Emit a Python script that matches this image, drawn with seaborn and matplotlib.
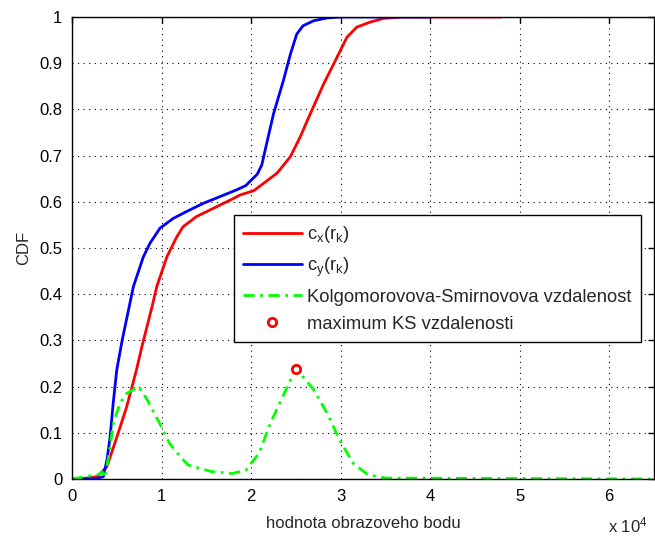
import matplotlib
matplotlib.use("Agg")
import matplotlib.pyplot as plt
import seaborn as sns
import pandas as pd

# ---- data (x in units of 10^4) ----
cx_x = [0.0, 0.09, 0.28, 0.39, 0.5, 0.61, 0.72, 0.78, 0.894, 0.946, 1.06, 1.17, 1.24, 1.39, 1.58,
        1.77, 1.88, 2.03, 2.14, 2.29, 2.44, 2.55, 2.66, 2.81, 2.96, 3.07, 3.18, 3.33, 3.48, 3.7, 4.80]
cx_y = [0.0, 0.0, 0.005, 0.027, 0.09, 0.156, 0.236, 0.286, 0.373, 0.416, 0.481, 0.524, 0.546, 0.568, 0.586,
        0.604, 0.615, 0.624, 0.64, 0.662, 0.698, 0.741, 0.79, 0.855, 0.913, 0.956, 0.978, 0.989, 0.997, 1.0, 1.0]

cy_x = [0.0, 0.25, 0.35, 0.39, 0.425, 0.46, 0.5, 0.56, 0.685, 0.797, 0.87, 0.983, 1.13, 1.28, 1.47,
        1.65, 1.84, 1.94, 2.07, 2.12, 2.175, 2.25, 2.36, 2.44, 2.51, 2.58, 2.70, 2.85, 3.0, 4.0]
cy_y = [0.0, 0.0, 0.005, 0.041, 0.09, 0.164, 0.236, 0.30, 0.416, 0.481, 0.51, 0.543, 0.564, 0.579, 0.597,
        0.611, 0.626, 0.635, 0.66, 0.68, 0.727, 0.79, 0.862, 0.92, 0.963, 0.981, 0.992, 0.998, 1.0, 1.0]

ks_x = [0.0, 0.3, 0.335, 0.37, 0.42, 0.46, 0.536, 0.61, 0.74, 0.83, 0.98, 1.09, 1.21, 1.30, 1.56,
        1.79, 1.94, 2.09, 2.20, 2.25, 2.44, 2.5, 2.70, 2.85, 2.99, 3.14, 3.3, 3.5, 6.5]
ks_y = [0.0, 0.01, 0.016, 0.003, 0.063, 0.12, 0.164, 0.185, 0.2, 0.175, 0.12, 0.077, 0.048, 0.030, 0.016,
        0.012, 0.019, 0.056, 0.113, 0.135, 0.214, 0.24, 0.193, 0.142, 0.084, 0.034, 0.01, 0.002, 0.0]

max_x = [2.5]
max_y = [0.238]

labels = [r"c$_x$(r$_k$)", r"c$_y$(r$_k$)", "Kolgomorovova-Smirnovova vzdalenost", "maximum KS vzdalenosti"]
x_ticks = [0, 1, 2, 3, 4, 5, 6]
y_ticks = [0, 0.1, 0.2, 0.3, 0.4, 0.5, 0.6, 0.7, 0.8, 0.9, 1]
y_ticklabels = ["0", "0.1", "0.2", "0.3", "0.4", "0.5", "0.6", "0.7", "0.8", "0.9", "1"]

sns.set_style("white")
plt.rcParams["font.family"] = ["Liberation Sans", "DejaVu Sans"]
plt.rcParams["mathtext.fontset"] = "custom"
plt.rcParams["mathtext.rm"] = "Liberation Sans"
plt.rcParams["mathtext.it"] = "Liberation Sans"
plt.rcParams["mathtext.default"] = "regular"

fig = plt.figure(figsize=(6.55, 5.38), dpi=100)
ax = fig.add_axes([72/655, 59/538, 582/655, 462/538])

df_cx = pd.DataFrame({"x": cx_x, "y": cx_y})
df_cy = pd.DataFrame({"x": cy_x, "y": cy_y})
df_ks = pd.DataFrame({"x": ks_x, "y": ks_y})

common = dict(ax=ax, lw=2, sort=False, estimator=None, solid_joinstyle="round", solid_capstyle="round")
sns.lineplot(data=df_cx, x="x", y="y", color="#ff0000", label=labels[0], **common)
sns.lineplot(data=df_cy, x="x", y="y", color="#0000ff", label=labels[1], **common)
sns.lineplot(data=df_ks, x="x", y="y", ax=ax, color="#00ff00", lw=2, sort=False, estimator=None, label=labels[2])
ax.lines[-1].set_dashes((4, 2, 1, 2))
ax.plot(max_x, max_y, ls="none", marker="o", ms=6, mfc="white", mec="#ff0000", mew=2, label=labels[3])

ax.set_xlim(0, 6.5)
ax.set_ylim(0, 1)
ax.set_xticks(x_ticks)
ax.set_xticklabels([str(t) for t in x_ticks])
ax.set_yticks(y_ticks)
ax.set_yticklabels(y_ticklabels)
ax.tick_params(direction="in", length=4, width=1, top=True, right=True, labelsize=12, pad=7, colors="black")
ax.grid(True, color="black", ls=(0, (1, 4)), lw=0.8)
for s in ax.spines.values():
    s.set_visible(True)
    s.set_color("black")
    s.set_linewidth(1)

ax.set_xlabel("hodnota obrazoveho bodu", fontsize=12, labelpad=9)
ax.set_ylabel("CDF", fontsize=12, labelpad=6)
fig.text(608/655, 0.004, r"x 10$^4$", fontsize=12, ha="left", va="bottom")

leg = ax.legend(loc="upper left", bbox_to_anchor=(0.278, 0.571), fontsize=13.2, frameon=True,
                fancybox=False, edgecolor="black", framealpha=1, handlelength=3.2,
                handletextpad=0.3, borderpad=0.5, labelspacing=0.55, borderaxespad=0)
leg.get_frame().set_linewidth(1)

fig.savefig("out.png", dpi=100)
